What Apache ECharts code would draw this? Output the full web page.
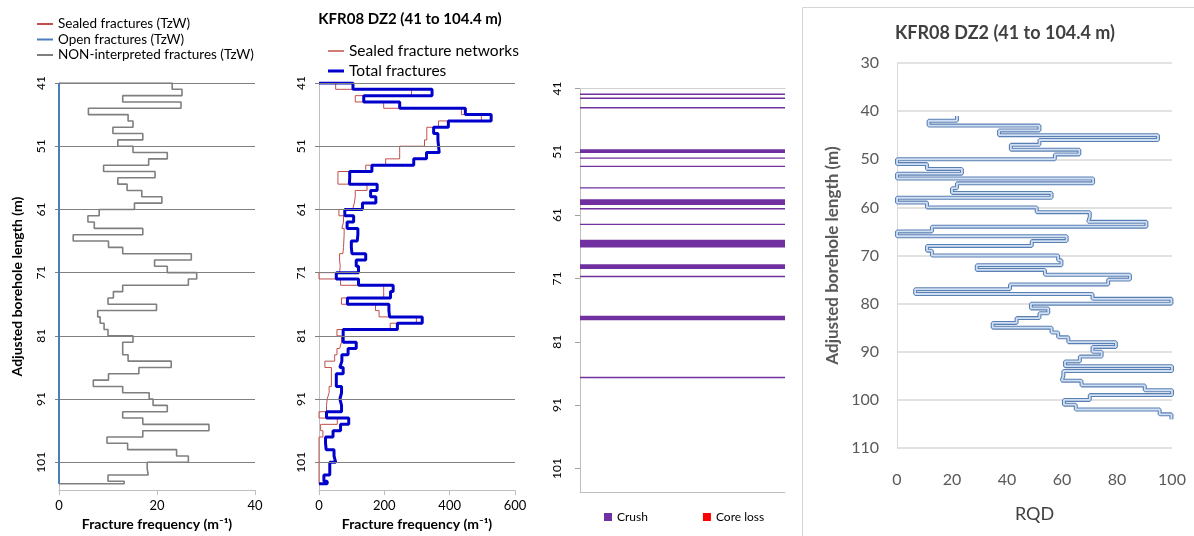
<!DOCTYPE html>
<html><head><meta charset="utf-8">
<script src="https://cdn.jsdelivr.net/npm/echarts@6/dist/echarts.min.js"></script>
<style>html,body{margin:0;padding:0;background:#fff}#c{width:1194px;height:536px}</style>
</head><body><div id="c"></div>
<script>
// ---- depth bins (m) ----
const depthBins = [41,42,43,44,45,46,47,48,49,50,51,52,53,54,55,56,57,58,59,60,61,62,63,64,65,66,67,68,69,70,71,72,73,74,75,76,77,78,79,80,81,82,83,84,85,86,87,88,89,90,91,92,93,94,95,96,97,98,99,100,101,102,103,104];
const bottomDepth = 104.4;
const depthTicks = [41,51,61,71,81,91,101];

// ---- panel 1: fracture frequency (TzW), m^-1 ----
const nonInterpreted = [23.1,25.1,13.0,24.9,6.0,14.1,15.1,11.0,17.1,12.0,
  15.1,22.1,18.3,9.1,19.6,12.0,13.9,16.9,21.0,15.4,
  8.2,5.9,7.2,17.1,2.9,10.1,13.0,27.0,19.5,22.1,
  28.1,26.4,13.0,11.1,10.0,19.9,7.9,8.4,9.2,10.0,
  15.1,13.0,13.0,14.1,22.9,16.3,10.1,7.0,13.0,18.4,
  19.2,22.1,13.0,17.1,30.6,17.1,9.8,14.0,24.0,26.4,
  18.0,18.2,10.0,13.3];
const sealedTzW = [0,0,0,0,0,0,0,0,0,0,0,0,0,0,0,0,0,0,0,0,0,0,0,0,0,0,0,0,0,0,0,0,0,0,0,0,0,0,0,0,0,0,0,0,0,0,0,0,0,0,0,0,0,0,0,0,0,0,0,0,0,0,0,0];
const openTzW = [0,0,0,0,0,0,0,0,0,0,0,0,0,0,0,0,0,0,0,0,0,0,0,0,0,0,0,0,0,0,0,0,0,0,0,0,0,0,0,0,0,0,0,0,0,0,0,0,0,0,0,0,0,0,0,0,0,0,0,0,0,0,0,0];

// ---- panel 2: fracture frequency incl. networks, m^-1 ----
const totalFractures = [104,346,137,247,448,527,396,351,364,366,
  368,329,290,162,94,93,178,158,174,133,
  79,106,86,119,117,99,101,143,114,121,
  53,121,227,219,87,214,216,316,240,74,
  74,114,89,70,64,74,53,53,69,64,
  69,69,23,91,66,43,20,22,46,51,
  33,33,15,25];
const sealedNetworks = [51,283,111,198,436,497,366,330,330,323,
  247,247,204,143,58,58,147,111,108,103,
  61,75,70,77,76,75,73,63,65,63,
  0,66,198,198,69,173,184,298,218,55,
  69,63,55,48,18,38,38,38,31,25,
  23,23,0,56,5,12,0,0,0,0,
  0,0,0,0];

// ---- panel 3: crush zones (m) ----
const crushFrom = [41.85,42.5,43.98,50.6,51.95,53.25,56.6,58.5,59.95,62.4,64.9,68.75,70.65,76.9,86.6];
const crushTo   = [41.95,42.6,44.08,51.2,52.05,53.35,56.8,59.4,60.05,62.5,66.1,69.5,70.75,77.6,86.7];

// ---- panel 4: RQD ----
const rqdDepth = [41,42,43,44,45,46,47,48,49,50,51,52,53,54,55,56,57,58,59,60,61,62,63,64,65,66,67,68,69,70,71,72,73,74,75,76,77,78,79,80,81,82,83,84,85,86,87,88,89,90,91,92,93,94,95,96,97,98,99,100,101,102,103];
const rqdEnd = 104;
const rqdValues = [21.8,11.5,51.8,37.1,94.9,51.8,41.4,66.3,57.4,0,
  10.9,23.6,0,71.3,21.8,20.0,56.2,0,10.9,50.8,
  70.1,69.5,90.7,12.7,0,61.7,49.0,10.9,12.7,58.6,
  59.8,29.0,53.8,84.7,76.8,41.1,6.6,71.1,99.8,48.7,
  55.0,51.8,43.5,34.8,56.2,58.6,62.3,79.6,71.1,74.4,
  66.5,61.1,100,60.5,59.9,67.1,90.1,100,70.1,60.7,
  65.0,95.5,99.8];

function stepPath(tops, vals, end, fromZero) {
  const pts = [];
  if (fromZero) pts.push([0, tops[0]]);
  for (let i = 0; i < vals.length; i++) {
    const d0 = tops[i];
    const d1 = i + 1 < tops.length ? tops[i + 1] : end;
    pts.push([vals[i], d0], [vals[i], d1]);
  }
  if (fromZero) pts.push([0, end]);
  return pts;
}

const FONT = 'Lato, "Open Sans", sans-serif';
const ch = echarts.init(document.getElementById('c'), null, {renderer: 'canvas'});

const depthAxisBase = (gi, max, margin) => ({
  gridIndex: gi, type: 'value', inverse: true, min: 41, max: max,
  axisLine: {show: true, lineStyle: {color: '#bfbfbf'}},
  axisTick: {show: true, length: 4, customValues: depthTicks, lineStyle: {color: '#808080'}},
  axisLabel: {customValues: depthTicks, rotate: 90, margin: margin, fontSize: 12, color: '#000', fontFamily: FONT},
  splitLine: {show: false}
});

const lineS = (name, xi, yi, data, color, width, z) => ({
  name, type: 'line', xAxisIndex: xi, yAxisIndex: yi, data,
  symbol: 'none', showSymbol: false, animation: false, z: z || 2,
  lineStyle: {color, width}, itemStyle: {color}
});

const gridMarks = (xi) => ({
  type: 'line', xAxisIndex: xi, yAxisIndex: xi, data: [], silent: true, z: 1,
  markLine: {silent: true, symbol: 'none', label: {show: false}, animation: false,
    lineStyle: {color: '#808080', width: 1, type: 'solid'},
    data: depthTicks.map(v => ({yAxis: v}))}
});

const legText = (size) => ({fontFamily: FONT, fontSize: size, color: '#000'});

const option = {
  animation: false,
  backgroundColor: '#fff',
  title: [
    {text: 'KFR08 DZ2 (41 to 104.4 m)', left: 405, top: 7, textAlign: 'center',
     textStyle: {fontFamily: FONT, fontWeight: 'bold', fontSize: 15, color: '#000'}},
    {text: 'KFR08 DZ2 (41 to 104.4 m)', left: 1000, top: 19, textAlign: 'center',
     textStyle: {fontFamily: FONT, fontWeight: 'bold', fontSize: 18, color: '#404040'}}
  ],
  legend: [
    {data: ['Sealed fractures (TzW)', 'Open fractures (TzW)', 'NON-interpreted fractures (TzW)'],
     orient: 'vertical', left: 32, top: 12, icon: 'rect', itemWidth: 16, itemHeight: 2, itemGap: 1.5, selectedMode: false,
     textStyle: legText(13.5)},
    {data: ['Sealed fracture networks'], orient: 'vertical', left: 323, top: 38, icon: 'rect',
     itemWidth: 16, itemHeight: 1.5, selectedMode: false, textStyle: legText(15.5)},
    {data: ['Total fractures'], orient: 'vertical', left: 323, top: 58, icon: 'rect',
     itemWidth: 16, itemHeight: 3, selectedMode: false, textStyle: legText(15.5)},
    {data: ['Crush', 'Core loss'], orient: 'horizontal', left: 599, top: 506, icon: 'rect',
     itemWidth: 8, itemHeight: 8, itemGap: 55, selectedMode: false, textStyle: legText(12)}
  ],
  grid: [
    {left: 59, top: 83, width: 196, height: 408},
    {left: 319, top: 83, width: 196, height: 408},
    {left: 580, top: 88.5, width: 205, height: 404},
    {left: 897, top: 63, width: 275, height: 385}
  ],
  xAxis: [
    {gridIndex: 0, type: 'value', min: 0, max: 40, interval: 20, position: 'bottom',
     axisLine: {lineStyle: {color: '#bfbfbf'}}, axisTick: {show: true, length: 5, lineStyle: {color: '#bfbfbf'}},
     axisLabel: {color: '#000', fontSize: 13, fontFamily: FONT, margin: 9}, splitLine: {show: false},
     name: 'Fracture frequency (m\u207B\u00B9)', nameLocation: 'middle', nameGap: 24,
     nameTextStyle: {fontFamily: FONT, fontWeight: 'bold', fontSize: 14, color: '#000'}},
    {gridIndex: 1, type: 'value', min: 0, max: 600, interval: 200, position: 'bottom',
     axisLine: {lineStyle: {color: '#bfbfbf'}}, axisTick: {show: true, length: 5, lineStyle: {color: '#bfbfbf'}},
     axisLabel: {color: '#000', fontSize: 13, fontFamily: FONT, margin: 9}, splitLine: {show: false},
     name: 'Fracture frequency (m\u207B\u00B9)', nameLocation: 'middle', nameGap: 24,
     nameTextStyle: {fontFamily: FONT, fontWeight: 'bold', fontSize: 14, color: '#000'}},
    {gridIndex: 2, type: 'value', min: 0, max: 1, position: 'bottom',
     axisLine: {lineStyle: {color: '#bfbfbf'}}, axisTick: {show: false}, axisLabel: {show: false}, splitLine: {show: false}},
    {gridIndex: 2, type: 'value', min: 0, max: 1, position: 'top',
     axisLine: {lineStyle: {color: '#d0d0d0'}}, axisTick: {show: false}, axisLabel: {show: false}, splitLine: {show: false}},
    {gridIndex: 3, type: 'value', min: 0, max: 100, interval: 20, position: 'bottom',
     axisLine: {show: false}, axisTick: {show: false},
     axisLabel: {color: '#595959', fontSize: 16, fontFamily: FONT, margin: 24}, splitLine: {show: false},
     name: 'RQD', nameLocation: 'middle', nameGap: 57,
     nameTextStyle: {fontFamily: FONT, fontSize: 18, color: '#404040'}}
  ],
  yAxis: [
    Object.assign(depthAxisBase(0, 105.4, 12), {
      name: 'Adjusted borehole length (m)', nameLocation: 'middle', nameRotate: 90, nameGap: 35,
      nameTextStyle: {fontFamily: FONT, fontWeight: 'bold', fontSize: 14, color: '#000'}}),
    depthAxisBase(1, 105.4, 12),
    Object.assign(depthAxisBase(2, 104.8, 17), {
      axisTick: {show: true, length: 5, customValues: depthTicks, lineStyle: {color: '#a0a0a0'}}}),
    {gridIndex: 3, type: 'value', inverse: true, min: 30, max: 110, interval: 10,
     axisLine: {show: true, lineStyle: {color: '#d9d9d9'}}, axisTick: {show: false},
     axisLabel: {color: '#595959', fontSize: 16, fontFamily: FONT, margin: 18},
     splitLine: {show: true, lineStyle: {color: '#d9d9d9', width: 1.5}},
     name: 'Adjusted borehole length (m)', nameLocation: 'middle', nameRotate: 90, nameGap: 56,
     nameTextStyle: {fontFamily: FONT, fontWeight: 'bold', fontSize: 17, color: '#595959'}}
  ],
  graphic: [
    {type: 'polyline', silent: true, z: -1,
     shape: {points: [[802.5, 600], [802.5, 7.5], [1200, 7.5]]},
     style: {stroke: '#d4d4d4', lineWidth: 1, fill: null}}
  ],
  series: [
    gridMarks(0),
    lineS('NON-interpreted fractures (TzW)', 0, 0, stepPath(depthBins, nonInterpreted, bottomDepth, true), '#7f7f7f', 1.6, 3),
    lineS('Sealed fractures (TzW)', 0, 0, stepPath(depthBins, sealedTzW, bottomDepth, true), '#c0504d', 1.5, 4),
    lineS('Open fractures (TzW)', 0, 0, stepPath(depthBins, openTzW, bottomDepth, true), '#4a7ebb', 2, 5),
    gridMarks(1),
    lineS('Sealed fracture networks', 1, 1, stepPath(depthBins, sealedNetworks, bottomDepth, true), '#c0504d', 1, 3),
    lineS('Total fractures', 1, 1, stepPath(depthBins, totalFractures, bottomDepth, true), '#0000cc', 3, 4),
    {name: 'Crush', type: 'custom', xAxisIndex: 2, yAxisIndex: 2, animation: false,
     itemStyle: {color: '#7030a0'},
     data: crushFrom.map((f, i) => [f, crushTo[i]]),
     encode: {y: [0, 1]},
     renderItem: function (params, api) {
       const a = api.coord([0, api.value(0)]);
       const b = api.coord([1, api.value(1)]);
       let y = a[1], h = b[1] - a[1];
       const minH = 1.4;
       if (h < minH) { y = (a[1] + b[1]) / 2 - minH / 2; h = minH; }
       return {type: 'rect', shape: {x: a[0], y: y, width: b[0] - a[0], height: h},
               style: {fill: '#7030a0'}};
     }},
    {name: 'Core loss', type: 'custom', xAxisIndex: 2, yAxisIndex: 2, animation: false,
     itemStyle: {color: '#ff0000'}, data: [],
     renderItem: function () { return null; }},
    lineS('RQD outline', 4, 3, stepPath(rqdDepth, rqdValues, rqdEnd, false), '#5a7fb2', 4, 3),
    lineS('RQD fill', 4, 3, stepPath(rqdDepth, rqdValues, rqdEnd, false), '#cfe0f4', 1.8, 4)
  ]
};
ch.setOption(option);
</script></body></html>
